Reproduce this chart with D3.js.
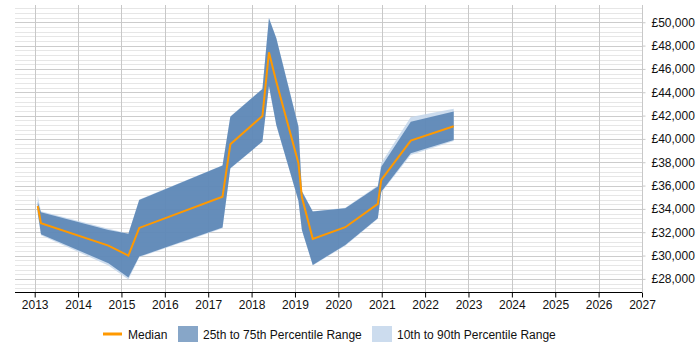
<!DOCTYPE html>
<html>
<head>
<meta charset="utf-8">
<script src="https://cdn.jsdelivr.net/npm/d3@7"></script>
<style>
  html, body { margin: 0; padding: 0; background: #fff; }
  svg { display: block; font-family: "Liberation Sans", Arial, sans-serif; }
</style>
</head>
<body>
<svg id="chart" width="700" height="350"></svg>
<script>
// ---- Data ----
const dates   = [2013.07, 2013.145, 2014.70, 2015.16, 2015.41, 2017.33, 2017.51, 2018.25, 2018.40, 2018.57, 2019.08, 2019.16, 2019.41, 2020.16, 2020.91, 2020.99, 2021.67, 2022.66];
const median  = [34250, 32770, 30850, 30000, 32370, 35050, 39540, 41970, 47430, 44910, 37920, 35000, 31430, 32430, 34430, 36480, 39850, 41090];
const p75     = [34600, 33720, 32200, 31860, 34770, 37710, 41910, 44280, 50340, 48630, 41050, 35500, 33770, 34060, 35910, 37620, 41480, 42340];
const p25     = [33700, 31830, 29340, 28110, 29910, 32400, 37490, 39770, 44540, 41200, 34700, 32200, 29200, 30910, 33200, 35460, 38770, 39910];
const p90     = [35100, 33800, 32300, 31900, 34800, 37750, 41950, 44300, 50400, 48650, 41100, 35550, 33800, 34100, 36000, 37940, 41880, 42590];
const p10     = [33550, 31750, 29150, 27950, 29850, 32350, 37450, 39750, 44500, 41150, 34650, 32150, 29150, 30850, 33150, 35400, 38630, 39830];
const yearTicks = [2013, 2014, 2015, 2016, 2017, 2018, 2019, 2020, 2021, 2022, 2023, 2024, 2025, 2026, 2027];
const salaryTicks = [28000, 30000, 32000, 34000, 36000, 38000, 40000, 42000, 44000, 46000, 48000, 50000];
const minorTicks = d3.range(27200, 51300, 400).filter(v => v % 2000 !== 0);
const legendLabels = ["Median", "25th to 75th Percentile Range", "10th to 90th Percentile Range"];

const rows = dates.map((d, i) => ({ d, m: median[i], lo25: p25[i], hi75: p75[i], lo10: p10[i], hi90: p90[i] }));

// ---- Layout ----
const svg = d3.select("#chart");
const pL = 15, pR = 642, pT = 5, pB = 292.3;
const x = d3.scaleLinear().domain([2012.546, 2027]).range([pL, pR]);
const y = d3.scaleLinear().domain([26850, 51480]).range([pB, pT]);

// minor grid
svg.append("g").selectAll("line").data(minorTicks).join("line")
  .attr("x1", pL).attr("x2", pR)
  .attr("y1", d => Math.round(y(d)) + 0.5).attr("y2", d => Math.round(y(d)) + 0.5)
  .attr("stroke", "#e6e6e6").attr("stroke-width", 1);
// major grid
svg.append("g").selectAll("line").data(salaryTicks).join("line")
  .attr("x1", pL).attr("x2", pR)
  .attr("y1", d => Math.round(y(d)) + 0.5).attr("y2", d => Math.round(y(d)) + 0.5)
  .attr("stroke", "#cccccc").attr("stroke-width", 1);
// vertical grid
svg.append("g").selectAll("line").data(yearTicks).join("line")
  .attr("x1", d => Math.round(x(d)) + 0.5).attr("x2", d => Math.round(x(d)) + 0.5)
  .attr("y1", pT).attr("y2", pB)
  .attr("stroke", "#c8c8c8").attr("stroke-width", 1);

// bands
const area10 = d3.area().x(d => x(d.d)).y0(d => y(d.lo10)).y1(d => y(d.hi90));
const area25 = d3.area().x(d => x(d.d)).y0(d => y(d.lo25)).y1(d => y(d.hi75));
svg.append("path").datum(rows).attr("d", area10).attr("fill", "#c3d6eb").attr("fill-opacity", 0.85);
svg.append("path").datum(rows).attr("d", area25).attr("fill", "#3d6fa6").attr("fill-opacity", 0.72);

// median
const line = d3.line().x(d => x(d.d)).y(d => y(d.m));
svg.append("path").datum(rows).attr("d", line)
  .attr("fill", "none").attr("stroke", "#ff9900").attr("stroke-width", 2)
  .attr("stroke-linejoin", "miter");

// x axis
const xAxis = svg.append("g").attr("transform", `translate(0,${Math.round(pB) + 0.5})`)
  .call(d3.axisBottom(x).tickValues(yearTicks).tickFormat(d3.format("d")).tickSize(5).tickPadding(3).tickSizeOuter(0));
xAxis.select(".domain").attr("d", `M${pL},0H${pR}`).attr("stroke", "#000");
xAxis.selectAll(".tick line").attr("stroke", "#000");
xAxis.selectAll("text").attr("font-size", 12).attr("fill", "#111").attr("font-family", "Liberation Sans, Arial, sans-serif");

// y axis (right)
const yAxis = svg.append("g").attr("transform", `translate(${Math.round(pR) + 0.5},0)`)
  .call(d3.axisRight(y).tickValues(salaryTicks).tickFormat(d => "£" + d3.format(",")(d)).tickSize(3).tickPadding(6).tickSizeOuter(0));
yAxis.select(".domain").attr("d", `M0,${pT}V${pB}`).attr("stroke", "#c8c8c8");
yAxis.selectAll(".tick line").attr("stroke", "#c8c8c8");
yAxis.selectAll("text").attr("font-size", 12).attr("fill", "#111").attr("font-family", "Liberation Sans, Arial, sans-serif");

// legend
const lg = svg.append("g").attr("font-size", 12).attr("fill", "#111");
lg.append("line").attr("x1", 103).attr("x2", 122).attr("y1", 334).attr("y2", 334)
  .attr("stroke", "#ff9900").attr("stroke-width", 3);
lg.append("text").attr("x", 128).attr("y", 338.5).text(legendLabels[0]);
lg.append("rect").attr("x", 178).attr("y", 326).attr("width", 20).attr("height", 16)
  .attr("fill", "#3d6fa6").attr("fill-opacity", 0.62);
lg.append("text").attr("x", 203).attr("y", 338.5).text(legendLabels[1]);
lg.append("rect").attr("x", 372).attr("y", 326).attr("width", 20).attr("height", 16)
  .attr("fill", "#c3d6eb").attr("fill-opacity", 0.85);
lg.append("text").attr("x", 397).attr("y", 338.5).text(legendLabels[2]);
</script>
</body>
</html>
